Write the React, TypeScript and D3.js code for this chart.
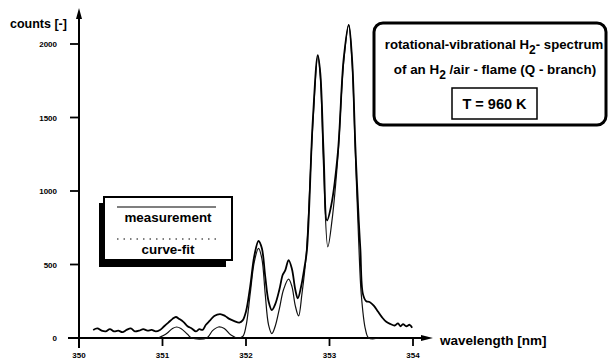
import React from 'react';
import * as d3 from 'd3';

// measured spectrum (wavelength nm, counts)
const measWl = [350.17, 350.22, 350.27, 350.32, 350.37, 350.42, 350.47, 350.52, 350.57, 350.62, 350.67, 350.72, 350.77, 350.82, 350.87, 350.92, 350.97, 351.02, 351.07, 351.12, 351.16, 351.2, 351.25, 351.3, 351.35, 351.4, 351.44, 351.48, 351.52, 351.57, 351.62, 351.69, 351.75, 351.8, 351.86, 351.92, 351.96, 352.0, 352.05, 352.1, 352.15, 352.19, 352.23, 352.27, 352.31, 352.35, 352.4, 352.44, 352.47, 352.51, 352.55, 352.59, 352.62, 352.66, 352.7, 352.73, 352.8, 352.86, 352.89, 352.93, 352.97, 353.02, 353.1, 353.17, 353.23, 353.27, 353.31, 353.35, 353.37, 353.4, 353.44, 353.48, 353.53, 353.58, 353.63, 353.68, 353.73, 353.78, 353.82, 353.85, 353.88, 353.92, 353.96, 353.99];
const measCounts = [55, 65, 50, 45, 60, 45, 50, 40, 55, 65, 45, 50, 60, 50, 55, 45, 55, 80, 105, 130, 143, 130, 110, 80, 65, 45, 60, 55, 90, 120, 150, 163, 150, 130, 115, 105, 120, 180, 350, 560, 660, 610, 420, 250, 190, 230, 330, 430, 460, 530, 470, 330, 270, 350, 480, 600, 1480, 1925, 1800, 1250, 800, 900, 1260, 1900, 2130, 1900, 1300, 800, 600, 300, 250, 245, 220, 180, 140, 110, 95, 85, 100, 80, 95, 80, 90, 70];

// fitted spectrum
const fitWl = [350.95, 351.05, 351.12, 351.17, 351.22, 351.3, 351.35, 351.53, 351.6, 351.67, 351.74, 351.82, 351.9, 351.96, 352.0, 352.05, 352.1, 352.15, 352.19, 352.23, 352.27, 352.31, 352.35, 352.4, 352.45, 352.51, 352.55, 352.59, 352.63, 352.67, 352.72, 352.8, 352.86, 352.89, 352.93, 352.98, 353.03, 353.1, 353.17, 353.23, 353.27, 353.31, 353.35, 353.38, 353.43, 353.47, 353.6];
const fitCounts = [0, 30, 65, 75, 65, 25, 0, 0, 50, 75, 65, 20, 0, 10, 80, 300, 520, 610, 540, 300, 90, 30, 80, 200, 330, 400, 350, 220, 150, 300, 560, 1450, 1920, 1780, 1150, 620, 800, 1230, 1880, 2130, 1880, 1250, 650, 300, 60, 0, 0];

const xTicks = [350, 351, 352, 353, 354];
const yTicks = [0, 500, 1000, 1500, 2000];

const font = '"Liberation Sans", Arial, Helvetica, sans-serif';

const x = d3.scaleLinear().domain([350, 354]).range([79, 413]);
const y = d3.scaleLinear().domain([0, 2000]).range([338, 44]);

const App = () => {
  const line = d3.line<[number, number]>()
    .x((d) => x(d[0]))
    .y((d) => y(d[1]))
    .curve(d3.curveCatmullRom.alpha(0.5));

  const meas = measWl.map((w, i) => [w, measCounts[i]] as [number, number]);
  const fit = fitWl.map((w, i) => [w, fitCounts[i]] as [number, number]);

  return (
    <svg width={609} height={363} style={{ position: 'absolute', left: 0, top: 0, background: '#fff' }} fontFamily={font} fontWeight="bold">
      {/* axes */}
      <line x1={x(350)} x2={x(350)} y1={348} y2={16} stroke="#000" strokeWidth={2} />
      <path d={`M${x(350)},8 L${x(350) - 3},19 L${x(350) + 3},19 Z`} fill="#000" />
      <line x1={68} x2={426} y1={y(0)} y2={y(0)} stroke="#000" strokeWidth={2} />
      <path d={`M433,${y(0)} L421,${y(0) - 3} L421,${y(0) + 3} Z`} fill="#000" />

      {yTicks.map((t) => (
        <g key={t}>
          {t > 0 && <line x1={70} x2={x(350)} y1={y(t)} y2={y(t)} stroke="#000" strokeWidth={1.8} />}
          <text x={57} y={y(t) + 3} fontSize={8} textAnchor="end">{t}</text>
        </g>
      ))}
      {xTicks.map((t) => (
        <g key={t}>
          {t > 350 && <line x1={x(t)} x2={x(t)} y1={y(0)} y2={y(0) + 8} stroke="#000" strokeWidth={1.8} />}
          <text x={x(t)} y={358} fontSize={8} textAnchor="middle">{t}</text>
        </g>
      ))}

      <text x={10} y={28} fontSize={12.5}>counts [-]</text>
      <text x={440} y={345} fontSize={13.5}>wavelength [nm]</text>

      {/* spectra */}
      <path d={line(fit) || ''} fill="none" stroke="#111" strokeWidth={1.2} />
      <path d={line(meas) || ''} fill="none" stroke="#000" strokeWidth={1.8} strokeLinejoin="round" />

      {/* legend */}
      <rect x={99} y={203} width={127} height={64} fill="#000" />
      <rect x={104} y={197} width={128} height={63} fill="#fff" stroke="#000" strokeWidth={2} />
      <line x1={117} x2={216} y1={207} y2={207} stroke="#000" strokeWidth={1.2} />
      <text x={168} y={222} fontSize={13.4} textAnchor="middle">measurement</text>
      <line x1={117} x2={216} y1={239} y2={239} stroke="#000" strokeWidth={1} strokeDasharray="1.5,5" />
      <text x={168} y={254} fontSize={13.4} textAnchor="middle">curve-fit</text>

      {/* title box */}
      <rect x={374} y={23} width={232} height={102} rx={9} fill="#fff" stroke="#000" strokeWidth={3} />
      <text x={494} y={49} fontSize={13.2} textAnchor="middle">
        rotational-vibrational H<tspan dy={5} fontSize={12}>2</tspan><tspan dy={-5}>- spectrum</tspan>
      </text>
      <text x={495} y={74} fontSize={13.4} textAnchor="middle">
        of an H<tspan dy={5} fontSize={12}>2</tspan><tspan dy={-5}> /air - flame (Q - branch)</tspan>
      </text>
      <rect x={452} y={88} width={85} height={31} fill="none" stroke="#000" strokeWidth={1.5} />
      <text x={494.5} y={109} fontSize={14.5} textAnchor="middle">T = 960 K</text>
    </svg>
  );
};

export default App;
